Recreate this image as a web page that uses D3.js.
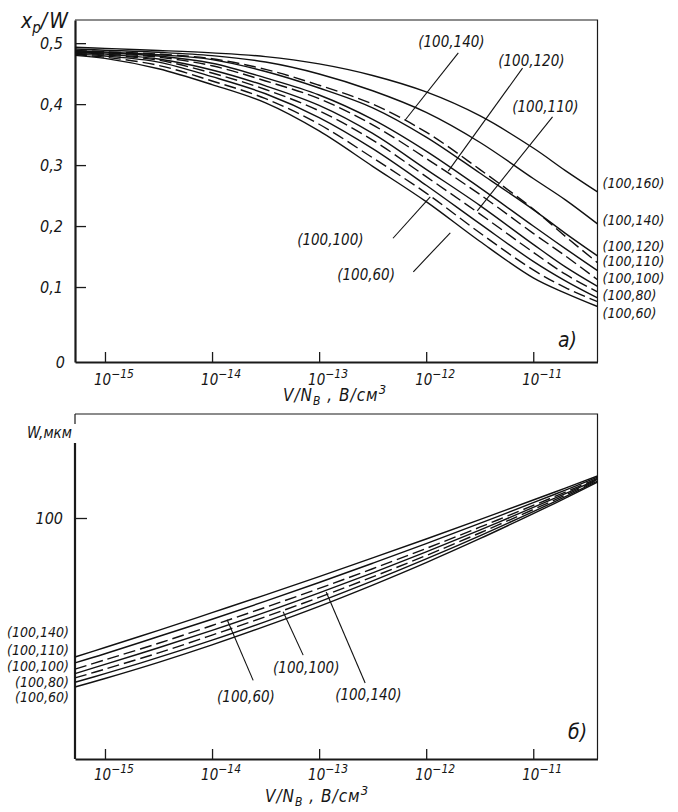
<!DOCTYPE html>
<html>
<head>
<meta charset="utf-8">
<script src="https://cdn.jsdelivr.net/npm/d3@7"></script>
<style>
body { margin: 0; background: #fff; overflow: hidden; }
text { font-family: "Liberation Sans Narrow", "DejaVu Sans Condensed", sans-serif; font-style: italic; fill: #161616; }
</style>
</head>
<body>
<script>
const logV = [-15.28, -15, -14.5, -14, -13.5, -13, -12.5, -12, -11.5, -11, -10.7, -10.4];

// panel a) x_p / W, solid curves
const xp160 = [0.4934, 0.4914, 0.488, 0.484, 0.478, 0.466, 0.447, 0.420, 0.381, 0.328, 0.291, 0.256];
const xp140 = [0.4905, 0.4885, 0.485, 0.4795, 0.469, 0.4495, 0.422, 0.3865, 0.3375, 0.278, 0.243, 0.2035];
const xp120 = [0.4875, 0.4855, 0.481, 0.473, 0.4535, 0.4265, 0.394, 0.346, 0.287, 0.227, 0.188, 0.151];
const xp110 = [0.486, 0.484, 0.479, 0.467, 0.443, 0.415, 0.375, 0.323, 0.263, 0.200, 0.163, 0.127];
const xp100 = [0.484, 0.482, 0.474, 0.456, 0.430, 0.398, 0.352, 0.293, 0.234, 0.170, 0.133, 0.101];
const xp80 = [0.482, 0.479, 0.469, 0.445, 0.417, 0.378, 0.327, 0.267, 0.204, 0.142, 0.110, 0.082];
const xp60 = [0.480, 0.475, 0.458, 0.432, 0.402, 0.356, 0.298, 0.240, 0.175, 0.115, 0.090, 0.068];
// panel a) dashed curves
const xp140d = [0.488, 0.486, 0.482, 0.4745, 0.457, 0.431, 0.400, 0.354, 0.293, 0.228, 0.183, 0.140];
const xp120d = [0.4855, 0.483, 0.477, 0.463, 0.438, 0.409, 0.366, 0.311, 0.252, 0.188, 0.151, 0.112];
const xp110d = [0.4833, 0.4807, 0.472, 0.451, 0.424, 0.389, 0.341, 0.281, 0.220, 0.157, 0.121, 0.092];
const xp100d = [0.481, 0.477, 0.4635, 0.438, 0.409, 0.367, 0.312, 0.254, 0.189, 0.128, 0.099, 0.076];

// panel б) W, мкм
const w140 = [16.4, 18.55, 23.2, 29.2, 36.8, 46.7, 59.5, 76.1, 97.9, 126.4, 147.5, 172.7];
const w110 = [15.2, 17.1, 21.4, 26.8, 33.9, 43.2, 55.5, 71.6, 93.2, 122.0, 143.7, 170.0];
const wDashA = [14.0, 15.8, 19.6, 24.7, 31.3, 40.0, 51.7, 67.3, 88.7, 117.8, 140.1, 167.4];
const w100 = [13.2, 14.9, 18.5, 23.2, 29.4, 37.8, 49.0, 64.3, 85.4, 114.7, 137.3, 165.5];
const wDashB = [12.5, 14.0, 17.3, 21.8, 27.7, 35.6, 46.5, 61.4, 82.3, 111.7, 134.7, 163.6];
const w80 = [11.8, 13.2, 16.3, 20.4, 26.0, 33.6, 44.1, 58.7, 79.3, 108.7, 132.1, 161.6];
const w60 = [11.1, 12.4, 15.3, 19.2, 24.5, 31.7, 41.8, 56.0, 76.4, 105.9, 129.5, 159.7];

// axes
const xMajor = [1e-15, 1e-14, 1e-13, 1e-12, 1e-11];
const xMinorMult = [1.5, 2, 3, 4, 5];
const yTicksA = [0.1, 0.2, 0.3, 0.4, 0.5];
const yTicksBMinor = [250, 200, 150, 120, 70, 60, 50, 40, 30, 25, 10, 8, 6];
const yTicksBMajor = [100];

// labels at the right of a) and left of б)
const rightLabelsA = ["(100,160)", "(100,140)", "(100,120)", "(100,110)", "(100,100)", "(100,80)", "(100,60)"];
const rightLabelsAVal = [0.2625, 0.2018, 0.1591, 0.1345, 0.1066, 0.0787, 0.0492];
const leftLabelsB = ["(100,140)", "(100,110)", "(100,100)", "(100,80)", "(100,60)"];
const leftLabelsBVal = [21.3, 16.8, 13.7, 11.1, 9.13];

// callouts: text, text logV, text value, leader from (logV, value) to (logV, value)
const calloutsA = [
    ["(100,140)", -12.074, 0.494, -11.70, 0.484, -12.196, 0.374],
    ["(100,120)", -11.327, 0.4626, -11.10, 0.459, -11.794, 0.29],
    ["(100,110)", -11.196, 0.387, -10.82, 0.379, -11.523, 0.225],
    ["(100,100)", -13.205, 0.169, -12.31, 0.180, -11.962, 0.248],
    ["(100,60)", -12.831, 0.112, -12.12, 0.125, -11.775, 0.189]
];
const calloutsB = [
    ["(100,60)", -13.953, 9.13, -13.616, 12.1, -13.859, 26.6],
    ["(100,100)", -13.43, 13.3, -13.149, 16.8, -13.336, 29.5],
    ["(100,140)", -12.85, 9.35, -12.570, 11.7, -12.934, 38.2]
];

const width = 678;
const height = 812;
const left = 75, right = 597.5;
const topA = 20, bottomA = 362;
const topB = 414, bottomB = 759;

const svg = d3.select("body").append("svg")
    .attr("width", width)
    .attr("height", height);

const x = d3.scaleLog().domain([Math.pow(10, -15.28), Math.pow(10, -10.4)]).range([left, right]);
const yA = d3.scaleLinear().domain([-0.023, 0.538]).range([bottomA, topA]);
const yB = d3.scaleLog().domain([4.35, 386.9]).range([bottomB, topB]);
const xv = l => x(Math.pow(10, l));

const xMinor = [];
xMajor.forEach(m => xMinorMult.forEach(k => {
    const v = m * k;
    if (x(v) < right - 2) xMinor.push(v);
}));

function frame(y0, y1) {
    svg.append("path")
        .attr("d", `M${left},${y0}H${right}V${y1}`)
        .attr("fill", "none").attr("stroke", "#1a1a1a").attr("stroke-width", 1.2);
}

function xAxis(yPos, labelY) {
    const g = svg.append("g").attr("transform", `translate(0,${yPos})`);
    g.call(d3.axisBottom(x).tickValues(xMinor).tickSizeInner(-6).tickSizeOuter(0).tickFormat(""));
    g.call(d3.axisBottom(x).tickValues(xMajor).tickSizeInner(-10).tickSizeOuter(0).tickFormat(""));
    g.selectAll(".tick line").attr("stroke", "#1a1a1a").attr("stroke-width", 1.3);
    g.selectAll(".domain").attr("stroke", "#1a1a1a").attr("stroke-width", 2.2);
    xMajor.forEach(d => {
        const t = svg.append("text").attr("x", x(d) - 11).attr("y", labelY).attr("font-size", 15);
        t.append("tspan").text("10");
        t.append("tspan").attr("dy", -7).attr("font-size", 12).text("\u2212" + Math.round(-Math.log10(d)));
    });
}

function axisTitle(xPos, yPos) {
    const t = svg.append("text").attr("x", xPos).attr("y", yPos).attr("font-size", 17)
        .attr("letter-spacing", 1);
    t.append("tspan").text("V/N");
    t.append("tspan").attr("dy", 4).attr("font-size", 12).text("B");
    t.append("tspan").attr("dy", -4).text(" , В/см");
    t.append("tspan").attr("dy", -7).attr("font-size", 13).text("3");
}

function curves(series, y) {
    const line = d3.line()
        .x((d, i) => xv(logV[i]))
        .y(d => y(d))
        .curve(d3.curveCatmullRom.alpha(0.5));
    svg.selectAll(null)
        .data(series)
        .enter().append("path")
        .attr("d", d => line(d.v))
        .attr("fill", "none")
        .attr("stroke", "#111")
        .attr("stroke-width", 1.4)
        .attr("stroke-dasharray", d => d.dash ? "12,5" : null);
}

function callouts(list, y) {
    list.forEach(c => {
        svg.append("line")
            .attr("x1", xv(c[3])).attr("y1", y(c[4]))
            .attr("x2", xv(c[5])).attr("y2", y(c[6]))
            .attr("stroke", "#111").attr("stroke-width", 1.1);
        svg.append("text").attr("x", xv(c[1])).attr("y", y(c[2])).attr("font-size", 15).text(c[0]);
    });
}

// ---- panel a)
frame(topA, bottomA);
xAxis(bottomA, 385);
axisTitle(283, 401);

const gyA = svg.append("g").attr("transform", `translate(${left},0)`);
gyA.call(d3.axisRight(yA).tickValues(yTicksA).tickSizeInner(11).tickSizeOuter(0).tickFormat(""));
gyA.selectAll(".tick line").attr("stroke", "#1a1a1a").attr("stroke-width", 1.3);
gyA.selectAll(".domain").attr("stroke", "#1a1a1a").attr("stroke-width", 2.2);
yTicksA.forEach(d => {
    svg.append("text").attr("x", left - 12).attr("y", yA(d) + 6)
        .attr("text-anchor", "end").attr("font-size", 16)
        .text(d.toFixed(1).replace(".", ","));
});
svg.append("text").attr("x", left - 10).attr("y", bottomA + 6).attr("text-anchor", "end").attr("font-size", 16).text("0");

const yTitleA = svg.append("text").attr("x", 21).attr("y", 28).attr("font-size", 21);
yTitleA.append("tspan").text("x");
yTitleA.append("tspan").attr("dy", 5).attr("font-size", 15).text("p");
yTitleA.append("tspan").attr("dy", -5).attr("letter-spacing", 2).text("/W");

curves([
    {v: xp160}, {v: xp140}, {v: xp120}, {v: xp110}, {v: xp100}, {v: xp80}, {v: xp60},
    {v: xp140d, dash: true}, {v: xp120d, dash: true}, {v: xp110d, dash: true}, {v: xp100d, dash: true}
], yA);

rightLabelsA.forEach((t, i) => {
    svg.append("text").attr("x", right + 5).attr("y", yA(rightLabelsAVal[i])).attr("font-size", 14).text(t);
});
callouts(calloutsA, yA);
svg.append("text").attr("x", 558).attr("y", 347).attr("font-size", 21).text("а)");

// ---- panel б)
frame(topB, bottomB);
svg.append("line").attr("x1", left).attr("x2", left).attr("y1", topB).attr("y2", topB + 10)
    .attr("stroke", "#1a1a1a").attr("stroke-width", 1.2);
xAxis(bottomB, 780);
axisTitle(265, 802);

const gyB = svg.append("g").attr("transform", `translate(${left},0)`);
gyB.call(d3.axisRight(yB).tickValues(yTicksBMinor).tickSizeInner(7).tickSizeOuter(0).tickFormat(""));
gyB.call(d3.axisRight(yB).tickValues(yTicksBMajor).tickSizeInner(12).tickSizeOuter(0).tickFormat(""));
gyB.selectAll(".tick line").attr("stroke", "#1a1a1a").attr("stroke-width", 1.3);
gyB.selectAll(".domain").remove();
svg.append("line").attr("x1", left).attr("x2", left).attr("y1", 443).attr("y2", bottomB)
    .attr("stroke", "#1a1a1a").attr("stroke-width", 2.2);
yTicksBMajor.forEach(d => {
    svg.append("text").attr("x", left - 12).attr("y", yB(d) + 6)
        .attr("text-anchor", "end").attr("font-size", 16).text(d);
});
svg.append("text").attr("x", 27).attr("y", 438).attr("font-size", 15).text("W,мкм");

curves([
    {v: w140}, {v: w110}, {v: w100}, {v: w80}, {v: w60},
    {v: wDashA, dash: true}, {v: wDashB, dash: true}
], yB);

leftLabelsB.forEach((t, i) => {
    svg.append("text").attr("x", left - 6).attr("y", yB(leftLabelsBVal[i]))
        .attr("text-anchor", "end").attr("font-size", 14).text(t);
});
callouts(calloutsB, yB);
svg.append("text").attr("x", 568).attr("y", 739).attr("font-size", 21).text("б)");
</script>
</body>
</html>
